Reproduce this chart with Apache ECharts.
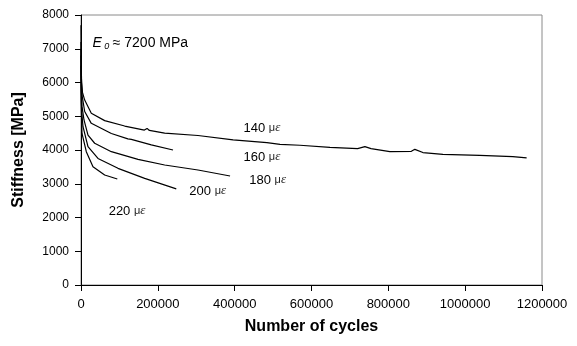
<!DOCTYPE html>
<html>
<head>
<meta charset="utf-8">
<script src="https://cdn.jsdelivr.net/npm/echarts@6/dist/echarts.min.js"></script>
<style>
  html, body { margin: 0; padding: 0; background: #fff; }
  #chart { width: 577px; height: 346px; }
</style>
</head>
<body>
<div id="chart"></div>
<script>
// [cycles, stiffness MPa]
var curve140 = [[0,7700],[500,6600],[1500,6000],[4000,5700],[9600,5480],[26800,5090],[61600,4870],[113700,4710],[165000,4590],[172000,4640],[178000,4580],[217800,4500],[304500,4430],[396000,4300],[484000,4220],[518000,4168],[570000,4140],[648000,4080],[720000,4040],[739000,4100],[755000,4040],[804000,3950],[860000,3960],[869000,4020],[890000,3925],[942000,3872],[1038000,3842],[1124000,3802],[1160000,3765]];
var curve160 = [[0,7200],[800,6200],[3000,5600],[9600,5140],[26800,4790],[79000,4490],[122000,4330],[126000,4370],[131000,4316],[183000,4150],[239500,4000]];
var curve180 = [[0,7000],[700,5900],[2500,5300],[7800,4890],[18200,4440],[35600,4200],[79000,3950],[148400,3720],[217800,3556],[304500,3407],[388000,3230]];
var curve200 = [[0,6800],[600,5700],[2000,5100],[5200,4690],[18200,4100],[44200,3750],[96300,3457],[165800,3160],[248000,2850]];
var curve220 = [[0,6500],[500,5400],[2600,4490],[13800,3950],[31200,3506],[61600,3259],[94500,3140]];

var strains = ['140', '160', '180', '200', '220'];
var curves = [curve140, curve160, curve180, curve200, curve220];
// where each strain label sits, in data units (left edge, vertical centre)
var labelAt = [[423000,4652],[423000,3793],[438000,3111],[282000,2785],[72000,2193]];

var myChart = echarts.init(document.getElementById('chart'));

var series = curves.map(function (c, i) {
    return {
        name: strains[i] + ' με',
        type: 'line',
        data: c,
        showSymbol: false,
        symbol: 'none',
        lineStyle: { color: '#000', width: 1.2 },
        animation: false,
        markPoint: {
            symbol: 'circle',
            symbolSize: 0,
            label: {
                show: true,
                position: 'right',
                distance: 0,
                formatter: '{n|' + strains[i] + ' }{m|μ}{e|ε}',
                rich: {
                    n: { fontFamily: 'Liberation Sans', fontSize: 13, color: '#000' },
                    m: { fontFamily: 'Liberation Sans', fontSize: 11, color: '#222' },
                    e: { fontFamily: 'Liberation Serif', fontSize: 13, fontStyle: 'italic', color: '#222' }
                }
            },
            data: [{ coord: labelAt[i] }]
        }
    };
});

// E0 annotation
series.push({
    type: 'line',
    data: [],
    animation: false,
    markPoint: {
        symbol: 'circle',
        symbolSize: 0,
        label: {
            show: true,
            position: 'right',
            distance: 0,
            formatter: '{e|E}{s| 0} {n|≈ 7200 MPa}',
            rich: {
                e: { fontFamily: 'Liberation Sans', fontSize: 14, fontStyle: 'italic', color: '#000' },
                s: { fontFamily: 'Liberation Sans', fontSize: 9, fontStyle: 'italic', color: '#000', verticalAlign: 'bottom', padding: [6, 0, 0, 0] },
                n: { fontFamily: 'Liberation Sans', fontSize: 14, color: '#000' }
            }
        },
        data: [{ coord: [30000, 7170] }]
    }
});

var plain = function (v) { return String(v); };

var option = {
    backgroundColor: '#fff',
    grid: {
        left: 81, right: 35, top: 15, bottom: 61,
        show: true,
        borderColor: '#8a8a8a',
        borderWidth: 1
    },
    xAxis: {
        type: 'value',
        min: 0, max: 1200000, interval: 200000,
        name: 'Number of cycles',
        nameLocation: 'middle',
        nameGap: 34,
        nameTextStyle: { fontFamily: 'Liberation Sans', fontSize: 16, fontWeight: 'bold', color: '#000' },
        axisLine: { show: true, lineStyle: { color: '#000', width: 1 } },
        axisTick: { show: true, length: 6, lineStyle: { color: '#000' } },
        axisLabel: { fontFamily: 'Liberation Sans', fontSize: 13, color: '#000', margin: 13, formatter: plain },
        splitLine: { show: false }
    },
    yAxis: {
        type: 'value',
        min: 0, max: 8000, interval: 1000,
        name: 'Stiffness [MPa]',
        nameLocation: 'middle',
        nameGap: 54,
        nameTextStyle: { fontFamily: 'Liberation Sans', fontSize: 16, fontWeight: 'bold', color: '#000' },
        axisLine: { show: true, lineStyle: { color: '#000', width: 1 } },
        axisTick: { show: true, length: 6, lineStyle: { color: '#000' } },
        axisLabel: { fontFamily: 'Liberation Sans', fontSize: 12, color: '#000', margin: 12, formatter: plain },
        splitLine: { show: false }
    },
    series: series
};

option && myChart.setOption(option);
</script>
</body>
</html>
